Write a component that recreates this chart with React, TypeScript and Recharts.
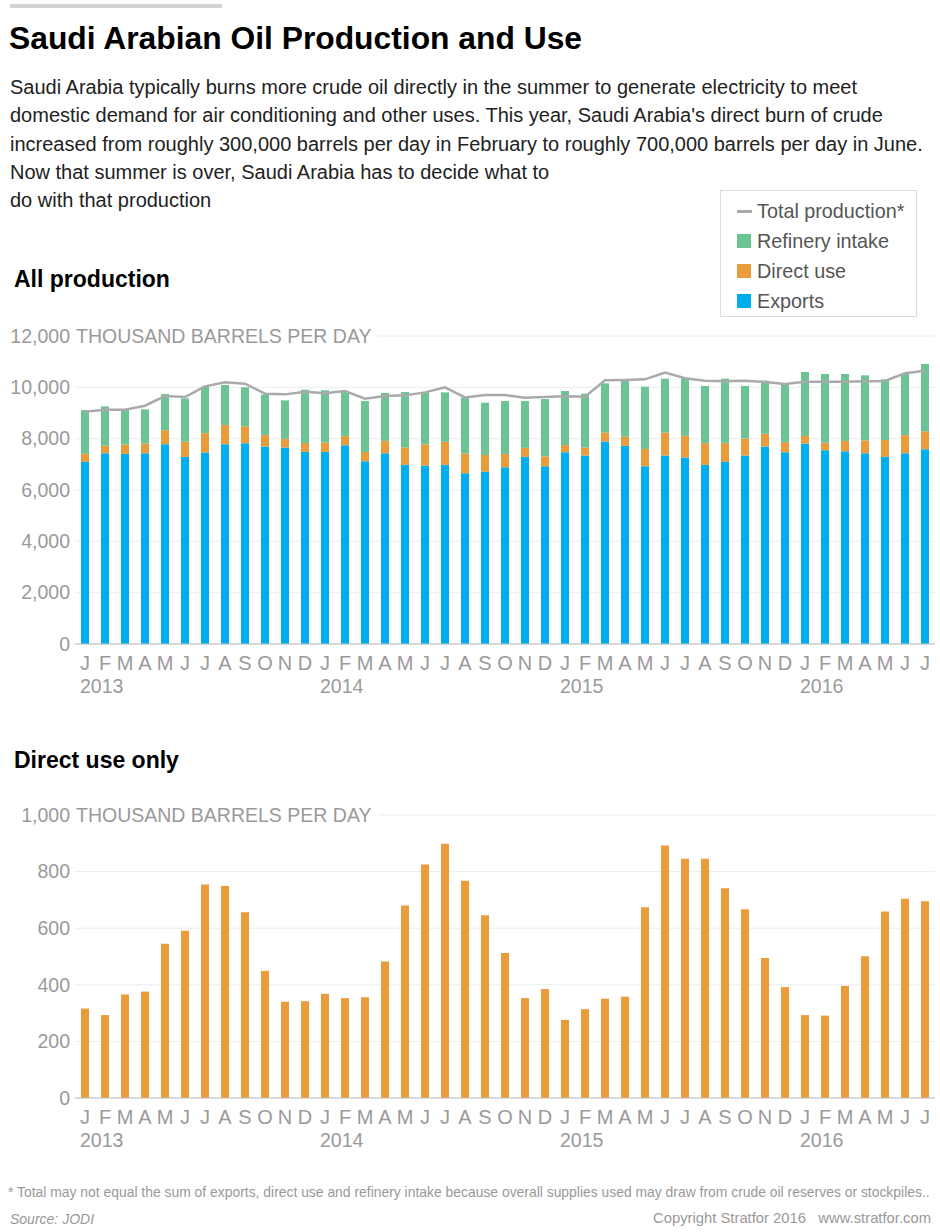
import React from 'react';
import {
  ComposedChart,
  BarChart,
  Bar,
  Line,
  XAxis,
  YAxis,
  CartesianGrid,
} from 'recharts';

// Jan 2013 .. Jul 2016
const months = [
  'J', 'F', 'M', 'A', 'M', 'J', 'J', 'A', 'S', 'O', 'N', 'D',
  'J', 'F', 'M', 'A', 'M', 'J', 'J', 'A', 'S', 'O', 'N', 'D',
  'J', 'F', 'M', 'A', 'M', 'J', 'J', 'A', 'S', 'O', 'N', 'D',
  'J', 'F', 'M', 'A', 'M', 'J', 'J',
];
const years = ['2013', '2014', '2015', '2016'];

const exportsVals = [
  7096, 7434, 7408, 7434, 7786, 7291, 7460, 7786, 7825, 7695, 7656, 7487,
  7487, 7747, 7122, 7434, 6979, 6953, 6979, 6653, 6718, 6888, 7291, 6927,
  7473, 7343, 7890, 7721, 6927, 7343, 7265, 6979, 7096, 7343, 7695, 7473,
  7812, 7552, 7513, 7434, 7291, 7434, 7591,
];
const directUse = [
  316, 293, 366, 376, 545, 591, 754, 749, 656, 449, 340, 342,
  368, 353, 356, 482, 680, 825, 898, 768, 646, 512, 353, 385,
  276, 314, 351, 358, 674, 892, 845, 845, 741, 667, 495, 392,
  293, 291, 396, 501, 659, 704, 695,
];
const refineryIntake = [
  1703, 1530, 1340, 1330, 1408, 1688, 1811, 1556, 1519, 1569, 1496, 2079,
  2027, 1743, 1988, 1862, 2158, 2039, 1927, 2175, 2036, 2066, 1822, 2232,
  2107, 2095, 1915, 2207, 2424, 2103, 2228, 2227, 2501, 2041, 2070, 2265,
  2493, 2677, 2611, 2533, 2362, 2395, 2625,
];
const totalProduction = [
  9049, 9127, 9127, 9283, 9661, 9622, 10038, 10195, 10143, 9752, 9726, 9830,
  9765, 9856, 9557, 9661, 9687, 9804, 10000, 9609, 9700, 9700, 9596, 9622,
  9648, 9635, 10273, 10286, 10312, 10572, 10351, 10260, 10234, 10260, 10208, 10130,
  10221, 10221, 10221, 10234, 10247, 10546, 10650,
];

const topTicks = [0, 2000, 4000, 6000, 8000, 10000, 12000];
const bottomTicks = [0, 200, 400, 600, 800, 1000];

const data = months.map((m, i) => ({
  key: `${i}`,
  month: m,
  year: i % 12 === 0 ? years[i / 12] : '',
  exports: exportsVals[i],
  direct: directUse[i],
  refinery: refineryIntake[i],
  total: totalProduction[i],
}));

const BLUE = '#00aeef';
const ORANGE = '#ea9b3c';
const GREEN = '#6cc394';
const GRAY_LINE = '#aaaaaa';
const TICK = '#9a9a9a';
const FONT = '"Liberation Sans", Arial, Helvetica, sans-serif';

const MonthTick = (props: any) => {
  const { x, y, payload } = props;
  const d = data[payload.index];
  return (
    <g>
      <text x={x} y={y + 19} dy="0.35em" textAnchor="middle" fill={TICK} fontSize={20}>
        {d.month}
      </text>
      {d.year && (
        <text x={x - 5} y={y + 42} dy="0.35em" textAnchor="start" fill={TICK} fontSize={19.5}>
          {d.year}
        </text>
      )}
    </g>
  );
};

const makeYTick = (top: number) => (props: any) => {
  const { y, payload } = props;
  const label = payload.value.toLocaleString('en-US');
  if (payload.value === top) {
    return (
      <g>
        <rect x={72} y={y - 12} width={306} height={24} fill="#fff" />
        <text x={70} y={y} dy="0.35em" textAnchor="end" fill={TICK} fontSize={19.5}>
          {label}
        </text>
        <text x={76} y={y} dy="0.35em" textAnchor="start" fill={TICK} fontSize={19.5}>
          THOUSAND BARRELS PER DAY
        </text>
      </g>
    );
  }
  return (
    <text x={70} y={y} dy="0.35em" textAnchor="end" fill={TICK} fontSize={19.5}>
      {label}
    </text>
  );
};

const legendItems = [
  { label: 'Total production*', color: GRAY_LINE, line: true },
  { label: 'Refinery intake', color: GREEN },
  { label: 'Direct use', color: ORANGE },
  { label: 'Exports', color: BLUE },
];

export default function App() {
  const text: React.CSSProperties = { position: 'absolute', whiteSpace: 'nowrap' };
  return (
    <div
      style={{
        position: 'absolute',
        left: 0,
        top: 0,
        width: 940,
        height: 1232,
        background: '#fff',
        fontFamily: FONT,
        overflow: 'hidden',
      }}
    >
      <div style={{ position: 'absolute', left: 10, top: 4, width: 212, height: 4, background: '#d3d3d3' }} />
      <div style={{ ...text, left: 9, top: 20, fontSize: 31.8, fontWeight: 700, color: '#000' }}>
        Saudi Arabian Oil Production and Use
      </div>
      {[
        'Saudi Arabia typically burns more crude oil directly in the summer to generate electricity to meet',
        "domestic demand for air conditioning and other uses. This year, Saudi Arabia's direct burn of crude",
        'increased from roughly 300,000 barrels per day in February to roughly 700,000 barrels per day in June.',
        'Now that summer is over, Saudi Arabia has to decide what to',
        'do with that production',
      ].map((l, i) => (
        <div key={i} style={{ ...text, left: 10, top: 75 + i * 28.3, fontSize: 20, color: '#222', lineHeight: '24px' }}>
          {l}
        </div>
      ))}

      <div
        style={{
          position: 'absolute',
          left: 720,
          top: 190,
          width: 197,
          height: 127,
          border: '1px solid #dcdcdc',
          boxSizing: 'border-box',
        }}
      >
        {legendItems.map((it, i) => (
          <div key={it.label} style={{ position: 'absolute', left: 16, top: 8 + i * 30, height: 24, display: 'flex', alignItems: 'center' }}>
            {it.line ? (
              <div style={{ width: 15, height: 3, background: it.color, marginRight: 5 }} />
            ) : (
              <div style={{ width: 14, height: 14, background: it.color, marginRight: 6 }} />
            )}
            <span style={{ fontSize: 19.8, color: '#555', whiteSpace: 'nowrap' }}>{it.label}</span>
          </div>
        ))}
      </div>

      <div style={{ ...text, left: 14, top: 266, fontSize: 23, fontWeight: 700, color: '#000' }}>All production</div>
      <div style={{ position: 'absolute', left: 0, top: 320 }}>
        <ComposedChart
          width={940}
          height={384}
          data={data}
          margin={{ top: 16, right: 5, bottom: 0, left: 0 }}
          barCategoryGap={0}
        >
          <CartesianGrid vertical={false} stroke="#ececec" />
          <XAxis
            dataKey="key"
            interval={0}
            tickLine={false}
            tickSize={0}
            tickMargin={0}
            height={60}
            axisLine={{ stroke: '#bdbdbd' }}
            tick={<MonthTick />}
          />
          <YAxis
            width={75}
            domain={[0, 12000]}
            ticks={topTicks}
            tickLine={false}
            axisLine={false}
            tick={makeYTick(12000)}
          />
          <Bar dataKey="exports" stackId="a" fill={BLUE} barSize={8} isAnimationActive={false} />
          <Bar dataKey="direct" stackId="a" fill={ORANGE} barSize={8} isAnimationActive={false} />
          <Bar dataKey="refinery" stackId="a" fill={GREEN} barSize={8} isAnimationActive={false} />
          <Line
            dataKey="total"
            type="linear"
            stroke={GRAY_LINE}
            strokeWidth={2.5}
            dot={false}
            isAnimationActive={false}
          />
        </ComposedChart>
      </div>

      <div style={{ ...text, left: 14, top: 747, fontSize: 23, fontWeight: 700, color: '#000' }}>Direct use only</div>
      <div style={{ position: 'absolute', left: 0, top: 799 }}>
        <BarChart
          width={940}
          height={359}
          data={data}
          margin={{ top: 16, right: 5, bottom: 0, left: 0 }}
          barCategoryGap={0}
        >
          <CartesianGrid vertical={false} stroke="#ececec" />
          <XAxis
            dataKey="key"
            interval={0}
            tickLine={false}
            tickSize={0}
            tickMargin={0}
            height={60}
            axisLine={{ stroke: '#bdbdbd' }}
            tick={<MonthTick />}
          />
          <YAxis
            width={75}
            domain={[0, 1000]}
            ticks={bottomTicks}
            tickLine={false}
            axisLine={false}
            tick={makeYTick(1000)}
          />
          <Bar dataKey="direct" fill={ORANGE} barSize={8} isAnimationActive={false} />
        </BarChart>
      </div>

      <div style={{ ...text, left: 8, top: 1184, fontSize: 13.9, color: '#999' }}>
        * Total may not equal the sum of exports, direct use and refinery intake because overall supplies used may draw from crude oil reserves or stockpiles..
      </div>
      <div style={{ ...text, left: 10, top: 1211, fontSize: 14, color: '#999', fontStyle: 'italic' }}>Source: JODI</div>
      <div style={{ ...text, right: 9, top: 1210, fontSize: 14.8, color: '#999' }}>
        Copyright Stratfor 2016&nbsp;&nbsp;&nbsp;www.stratfor.com
      </div>
    </div>
  );
}
